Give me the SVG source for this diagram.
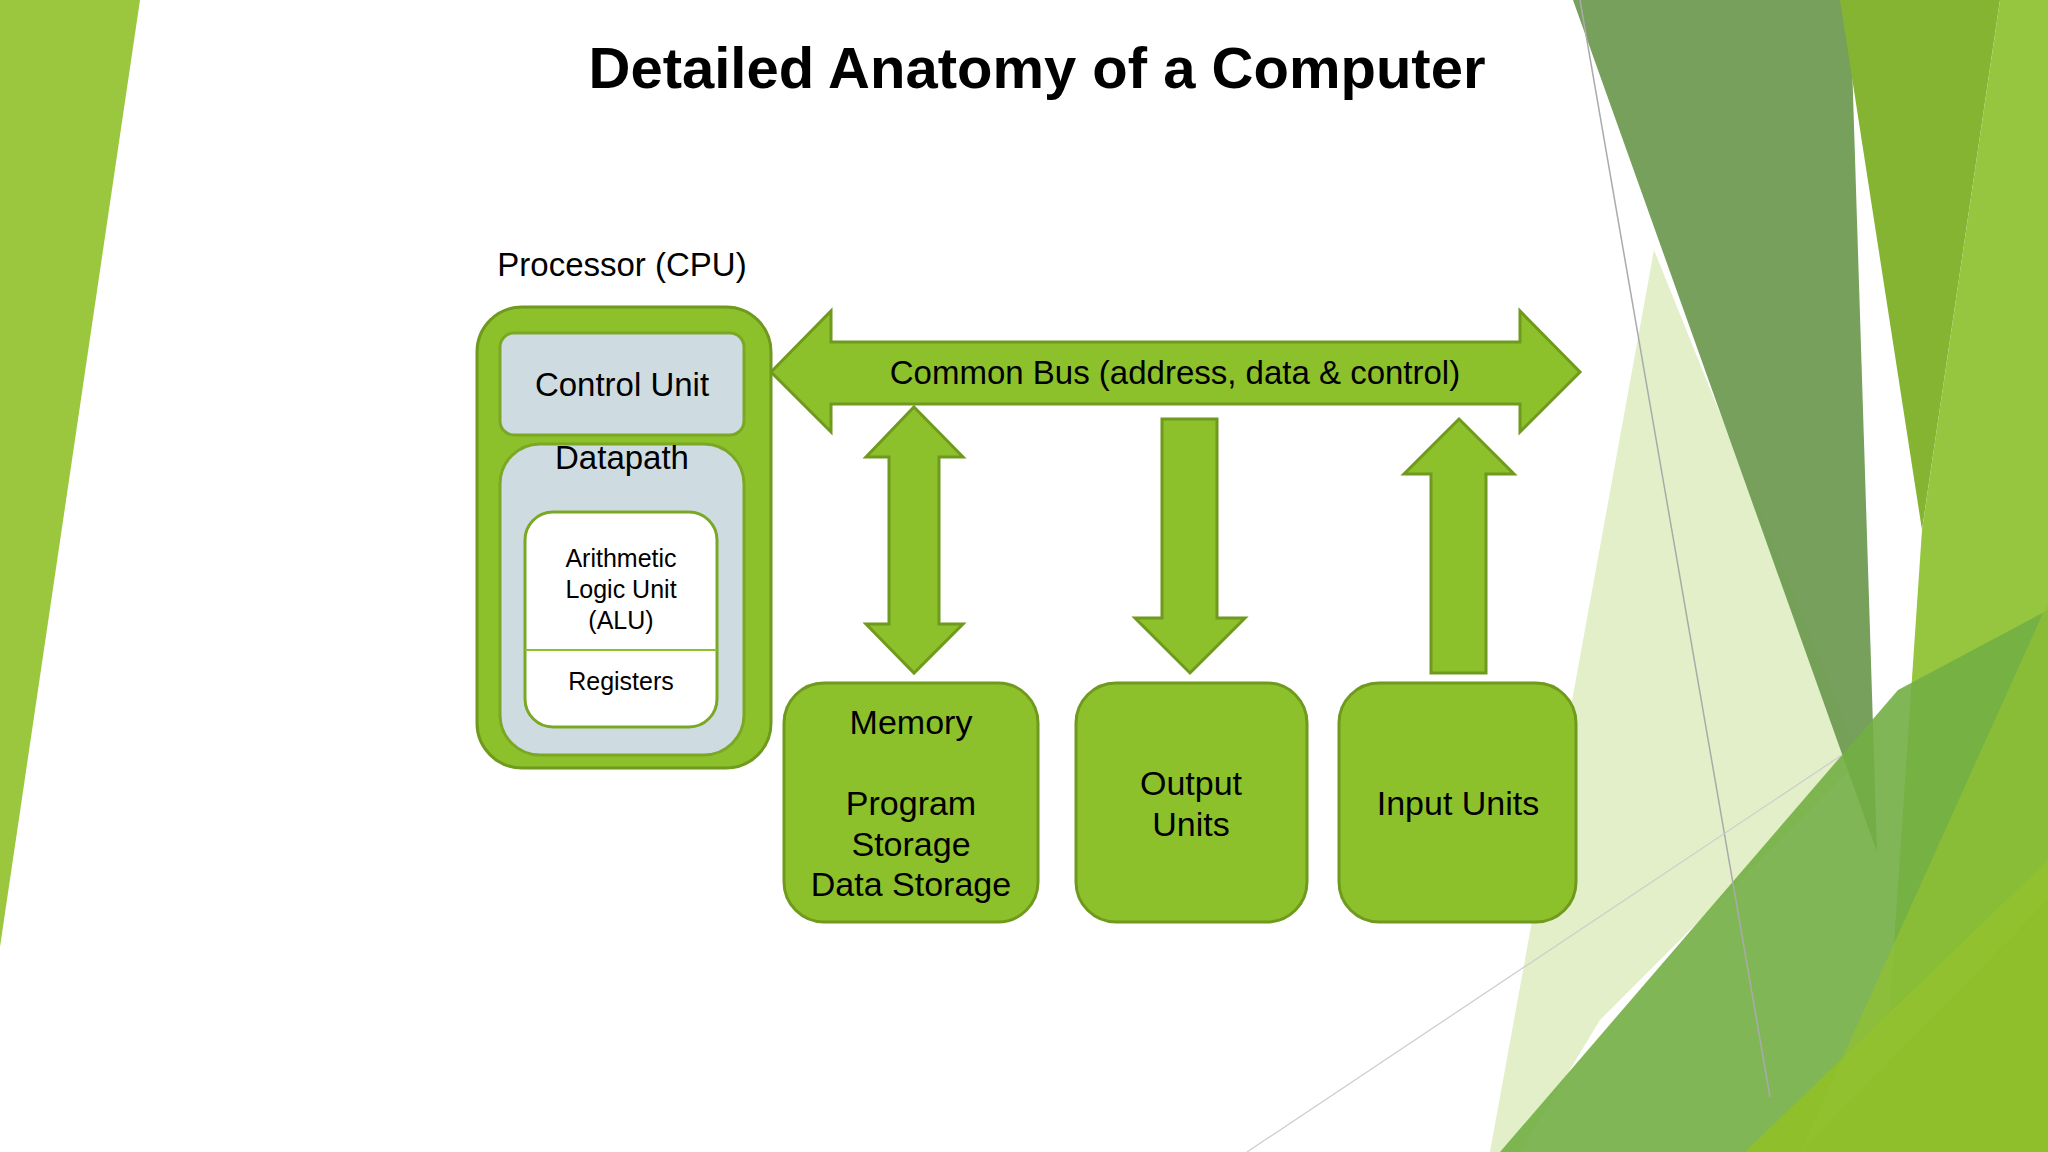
<svg xmlns="http://www.w3.org/2000/svg" width="2048" height="1152" viewBox="0 0 2048 1152">
<style>
.t{font-family:"Liberation Sans",Arial,sans-serif;fill:#000;text-anchor:middle}
.g{fill:#8DC12B;stroke:#6F9A1E;stroke-width:3}
</style>
<rect width="2048" height="1152" fill="#fff"/>
<g id="background">
<polygon points="0,0 140,0 0,947" fill="#9BC73F"/>
<polygon points="1654,250 1860,760 1600,1020 1520,1152 1490,1152" fill="#D6E8B0" opacity="0.7"/>
<polygon points="1573,0 1850,0 1877,852" fill="#6F9B52" opacity="0.95"/>
<polygon points="1840,0 2000,0 1922,530" fill="#84B432"/>
<polygon points="2000,0 2048,0 2048,1152 1880,1152 1922,530" fill="#96C640"/>
<polygon points="1500,1152 1898,690 2048,610 2048,1152" fill="#72AE44" opacity="0.9"/>
<polygon points="1745,1152 2048,860 2048,1152" fill="#8FBF2A"/>
<polygon points="1800,1152 2048,602 2048,900" fill="#92C232" opacity="0.7"/>
<line x1="1580" y1="0" x2="1770" y2="1097" stroke="#aaa" stroke-width="1.5"/>
<line x1="1247" y1="1152" x2="1842" y2="755" stroke="#ccc" stroke-width="1.2"/>
</g>
<text class="t" x="1037" y="88" font-size="58" font-weight="bold">Detailed Anatomy of a Computer</text>
<g id="connectors">
<polygon class="g" points="771,372 831,311 831,342 1520,342 1520,311 1580,372 1520,432 1520,404 831,404 831,432"/>
<polygon class="g" points="914,407 963,457 939,457 939,624 963,624 914,673 866,624 889,624 889,457 866,457"/>
<polygon class="g" points="1162,419 1217,419 1217,618 1245,618 1190,673 1135,618 1162,618"/>
<polygon class="g" points="1459,419 1514,474 1486,474 1486,673 1431,673 1431,474 1404,474"/>
</g>
<text class="t" x="1175" y="384" font-size="33">Common Bus (address, data &amp; control)</text>
<g id="cpu">
<text class="t" x="622" y="276" font-size="33">Processor (CPU)</text>
<rect class="g" x="477" y="307" width="294" height="461" rx="45"/>
</g>
<g id="control">
<rect x="500" y="333" width="244" height="102" rx="14" fill="#CEDCE2" stroke="#7AA824" stroke-width="3"/>
<text class="t" x="622" y="396" font-size="33">Control Unit</text>
</g>
<g id="datapath">
<rect x="500" y="444" width="244" height="311" rx="40" fill="#CEDCE2" stroke="#7AA824" stroke-width="3"/>
<text class="t" x="622" y="469" font-size="33">Datapath</text>
</g>
<g id="alu">
<rect x="525" y="512" width="192" height="215" rx="28" fill="#fff" stroke="#7AA824" stroke-width="3"/>
<line x1="525" y1="650" x2="717" y2="650" stroke="#8DC12B" stroke-width="2"/>
<text class="t" x="621" y="567" font-size="25">Arithmetic</text>
<text class="t" x="621" y="598" font-size="25">Logic Unit</text>
<text class="t" x="621" y="629" font-size="25">(ALU)</text>
<text class="t" x="621" y="690" font-size="25">Registers</text>
</g>
<g id="memory">
<rect class="g" x="784" y="683" width="254" height="239" rx="40"/>
<text class="t" x="911" y="734" font-size="34">Memory</text>
<text class="t" x="911" y="815" font-size="34">Program</text>
<text class="t" x="911" y="856" font-size="34">Storage</text>
<text class="t" x="911" y="896" font-size="34">Data Storage</text>
</g>
<g id="output">
<rect class="g" x="1076" y="683" width="231" height="239" rx="40"/>
<text class="t" x="1191" y="795" font-size="34">Output</text>
<text class="t" x="1191" y="836" font-size="34">Units</text>
</g>
<g id="input">
<rect class="g" x="1339" y="683" width="237" height="239" rx="40"/>
<text class="t" x="1458" y="815" font-size="34">Input Units</text>
</g>
</svg>
